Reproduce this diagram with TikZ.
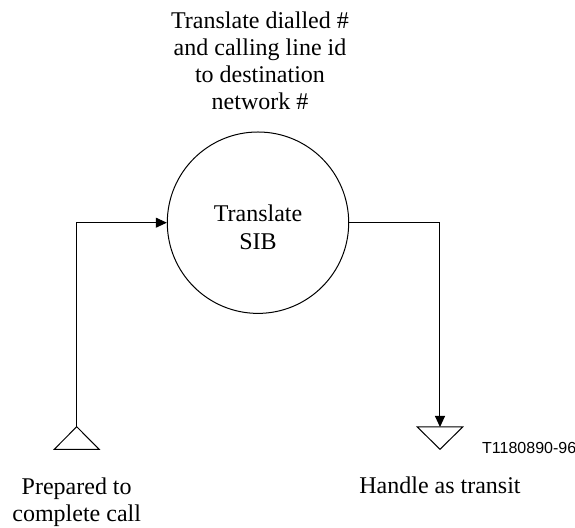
\documentclass[tikz,border=0pt]{standalone}
\usepackage{fontspec}
\setmainfont{Liberation Serif}
\newfontfamily\codefont{Liberation Sans}
\usetikzlibrary{arrows.meta}

\tikzset{
	lbl/.style={align=center, inner sep=0pt, font=\fontsize{12}{13.65}\selectfont},
	sibcircle/.style={circle, draw, minimum size=90.7pt, inner sep=0pt},
	figno/.style={inner sep=0pt, font=\codefont\fontsize{8}{9.6}\selectfont}
}

\begin{document}
\begin{tikzpicture}[x=0.5pt, y=-0.5pt, line width=0.5pt, >={Triangle[length=5.5pt,width=5pt]}]
		\useasboundingbox (0,0) rectangle (575,528);
		\node[sibcircle] (sib) at (258,222.7) {};
		\node[lbl] (sibtext) at (258,227.2) {Translate\\SIB};
		\node[lbl, anchor=base] (task) at (260,110) {Translate dialled \#\\and calling line id\\to destination\\network \#};
		\coordinate (P) at (76.7,426.7);
		\coordinate (H) at (440,427);
		\draw (P) -- ++(-22.5,22.7) -- ++(45,0) -- cycle;
		\draw (H) -- ++(-22.7,0) -- ++(22.7,22.3) -- ++(22.7,-22.3) -- cycle;
		\draw[->] (P) |- (sib.west);
		\draw[->] (sib.east) -| (H);
		\node[lbl, anchor=base] (prep) at (76.7,521.7) {Prepared to\\complete call};
		\node[lbl, anchor=base] (transit) at (440,493.3) {Handle as transit};
		\node[figno, anchor=base west] (fig) at (481.7,453.3) {T1180890-96};
		\end{tikzpicture}
\end{document}
